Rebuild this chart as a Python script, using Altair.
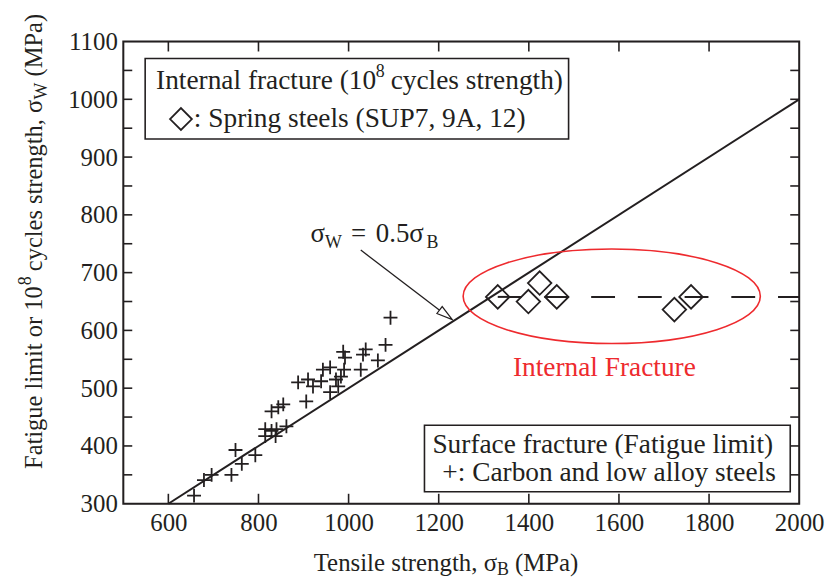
import altair as alt
import pandas as pd

FONT = "Liberation Serif"
INK = "#231f20"
RED = "#ee2a2e"

# ---- data ----
# Surface fracture (fatigue limit): carbon and low alloy steels
plus_x = [657, 679, 696, 740, 749, 763, 793,
          1093, 1082, 1065, 1038, 1032, 1027,
          988, 992, 990, 983, 972, 977,
          959, 959, 943, 939, 921, 910,
          888, 906, 855, 844, 829, 815,
          829, 840, 862, 815, 838]
plus_y = [314, 341, 350, 350, 393, 369, 384,
          622, 575, 548, 567, 558, 532,
          563, 553, 532, 520, 515, 503,
          493, 536, 532, 512, 503, 515,
          510, 477, 472, 467, 460, 429,
          426, 429, 434, 417, 417]

# Internal fracture (10^8 cycles strength): spring steels
dia_x = [1331, 1399, 1424, 1462, 1723, 1760]
dia_y = [658, 650, 682, 658, 636, 658]

# sigma_W = 0.5 sigma_B
line_x = [600, 2000]
line_y = [300, 1000]

# dashed level of internal fracture strength
dash_x = [1331, 2000]
dash_y = [658, 658]

# arrow of the annotation
arrow_x = [1027, 1202]
arrow_y = [739, 635]
head_x = [1216]
head_y = [627]

# ellipse around internal fracture points
ell_x = [1584]
ell_y = [659]

x_ticks = [600, 800, 1000, 1200, 1400, 1600, 1800, 2000]
y_ticks = [300, 400, 500, 600, 700, 800, 900, 1000, 1100]
x_minor = [600, 800, 1000, 1200, 1400, 1600, 1800]
y_minor = [350, 400, 450, 500, 550, 600, 650, 700, 750, 800, 850, 900, 950, 1000, 1050]

W, H = 680, 465

xs = alt.Scale(domain=[500, 2000], nice=False, zero=False)
ys = alt.Scale(domain=[300, 1100], nice=False, zero=False)

one = pd.DataFrame({"k": [0]})

axis_x = alt.Axis(values=x_ticks, format="d", title=None, grid=False, ticks=False, domain=False,
                  labelFont=FONT, labelFontSize=25, labelColor=INK, labelPadding=7,
                  labelFlush=False, labelOverlap=False)
axis_y = alt.Axis(values=y_ticks, format="d", title=None, grid=False, ticks=False, domain=False,
                  labelFont=FONT, labelFontSize=25, labelColor=INK, labelPadding=6,
                  labelFlush=False, labelOverlap=False)


def X(field):
    return alt.X(field, scale=xs, axis=axis_x)


def Y(field):
    return alt.Y(field, scale=ys, axis=axis_y)


def txt(s, x, y, size=27.5, align="left", color=INK, angle=0):
    return alt.Chart(one).mark_text(
        text=s, align=align, baseline="alphabetic", font=FONT,
        fontSize=size, color=color, angle=angle
    ).encode(x=alt.value(x), y=alt.value(y))


# main diagonal line
diag = alt.Chart(pd.DataFrame({"x": line_x, "y": line_y})).mark_line(
    color=INK, strokeWidth=2
).encode(x=X("x:Q"), y=Y("y:Q"))

dash = alt.Chart(pd.DataFrame({"x": dash_x, "y": dash_y})).mark_line(
    color=INK, strokeWidth=2, strokeDash=[24, 23]
).encode(x=X("x:Q"), y=Y("y:Q"))

plus = alt.Chart(pd.DataFrame({"x": plus_x, "y": plus_y})).mark_point(
    shape="M-1,0L1,0M0,-1L0,1", size=196, filled=False, color=INK, strokeWidth=1.8, opacity=1
).encode(x=X("x:Q"), y=Y("y:Q"))

dia = alt.Chart(pd.DataFrame({"x": dia_x, "y": dia_y})).mark_point(
    shape="diamond", size=560, filled=False, color=INK, strokeWidth=1.8, opacity=1
).encode(x=X("x:Q"), y=Y("y:Q"))

ell = alt.Chart(pd.DataFrame({"x": ell_x, "y": ell_y})).mark_point(
    shape="M-1,0A1,0.318,0,1,1,1,0A1,0.318,0,1,1,-1,0Z", size=89401,
    filled=False, color=RED, strokeWidth=1.6, opacity=1
).encode(x=X("x:Q"), y=Y("y:Q"))

arrow = alt.Chart(pd.DataFrame({"x": [arrow_x[0]], "y": [arrow_y[0]],
                                "x2": [arrow_x[1]], "y2": [arrow_y[1]]})).mark_rule(
    color=INK, strokeWidth=1.3
).encode(x=X("x:Q"), y=Y("y:Q"), x2="x2:Q", y2="y2:Q")

head = alt.Chart(pd.DataFrame({"x": head_x, "y": head_y})).mark_point(
    shape="M1,0L-1,-0.55L-1,0.55Z", size=256, angle=37, filled=True,
    fill="white", stroke=INK, strokeWidth=1.2, opacity=1
).encode(x=X("x:Q"), y=Y("y:Q"))

# inward ticks on all four sides
tk = dict(color=INK, strokeWidth=1.6)
tb = alt.Chart(pd.DataFrame({"v": x_minor})).mark_rule(**tk).encode(
    x=X("v:Q"), y=alt.value(H), y2=alt.value(H - 10))
tt = alt.Chart(pd.DataFrame({"v": x_minor})).mark_rule(**tk).encode(
    x=X("v:Q"), y=alt.value(0), y2=alt.value(10))
tl = alt.Chart(pd.DataFrame({"v": y_minor})).mark_rule(**tk).encode(
    y=Y("v:Q"), x=alt.value(0), x2=alt.value(9))
tr = alt.Chart(pd.DataFrame({"v": y_minor})).mark_rule(**tk).encode(
    y=Y("v:Q"), x=alt.value(W), x2=alt.value(W - 9))

# plot frame
frame = alt.Chart(one).mark_rect(fill=None, fillOpacity=0, stroke=INK, strokeWidth=2).encode(
    x=alt.value(0), x2=alt.value(W), y=alt.value(0), y2=alt.value(H))

# legend boxes
box1 = alt.Chart(one).mark_rect(fill="white", stroke=INK, strokeWidth=1.6).encode(
    x=alt.value(22), x2=alt.value(448), y=alt.value(17), y2=alt.value(98))
box2 = alt.Chart(one).mark_rect(fill="white", stroke=INK, strokeWidth=1.6).encode(
    x=alt.value(303), x2=alt.value(671), y=alt.value(386), y2=alt.value(453))
leg_dia = alt.Chart(one).mark_point(shape="diamond", size=484, filled=False, color=INK,
                                    strokeWidth=1.8, opacity=1).encode(
    x=alt.value(58), y=alt.value(78))

texts = [
    # box 1
    txt("Internal fracture (10", 33, 48),
    txt("8", 254, 36, size=18),
    txt("cycles strength)", 269, 48),
    txt(": Spring steels (SUP7, 9A, 12)", 71, 86),
    # box 2
    txt("Surface fracture (Fatigue limit)", 311, 414),
    txt("+: Carbon and low alloy steels", 321, 442),
    # red label
    txt("Internal Fracture", 484, 337, color=RED, align="center"),
    # equation
    txt("σ", 203, 202, size=27, align="right"),
    txt("W", 203, 208, size=18),
    txt("=", 229, 202, size=27),
    txt("0.5σ", 254, 202, size=27),
    txt("B", 305, 208, size=18),
    # x title
    txt("Tensile strength, σ", 376, 533, size=25, align="right"),
    txt("B", 376, 537, size=18),
    txt("(MPa)", 394, 533, size=25),
    # y title (rotated)
    txt("Fatigue limit or 10", -82, 430, size=24.6, angle=270),
    txt("8", -93, 245.2, size=18, angle=270),
    txt("cycles strength, σ", -82, 231, size=24.6, angle=270),
    txt("W", -77, 58.3, size=18, angle=270),
    txt("(MPa)", -82, 35.1, size=24.6, angle=270),
]

chart = alt.layer(
    diag, tb, tt, tl, tr, dash, ell, plus, dia, arrow, head,
    box1, box2, leg_dia, frame, *texts
).properties(
    width=W, height=H,
    autosize=alt.AutoSizeParams(type="none"),
    padding={"left": 116, "top": 32, "right": 30, "bottom": 74},
).configure_view(strokeWidth=0).configure_axis(
    labelFont=FONT, labelFontSize=25, labelColor=INK
).configure(background="white", font=FONT)

chart.save("out.html", embed_options={"renderer": "svg", "actions": False})
